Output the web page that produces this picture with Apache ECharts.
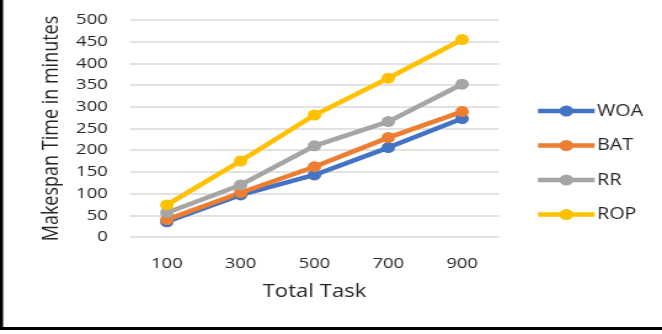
<!DOCTYPE html>
<html>
<head>
<meta charset="utf-8">
<script src="https://cdn.jsdelivr.net/npm/echarts@6/dist/echarts.min.js"></script>
<style>
  html, body { margin: 0; padding: 0; background: #fff; overflow: hidden; }
  /* The figure uses a horizontally widened typeface look: the chart is laid out
     on a 538px-wide canvas and widened to the 662px page. */
  #chart { width: 538px; height: 334px; transform: scaleX(1.2305); transform-origin: 0 0; }
</style>
</head>
<body>
<div id="chart"></div>
<script>
// Makespan time (minutes) per scheduling algorithm vs. total number of tasks
const totalTasks = ['100', '300', '500', '700', '900'];
const woa = [35, 97, 143, 206, 273];
const bat = [40, 102, 162, 229, 289];
const rr  = [56, 120, 210, 266, 352];
const rop = [74, 175, 281, 366, 455];

const seriesNames = ['WOA', 'BAT', 'RR', 'ROP'];
const seriesData = [woa, bat, rr, rop];
const colors = ['#4472C4', '#ED7D31', '#A5A5A5', '#FFC000'];

const font = '"Open Sans", "DejaVu Sans", sans-serif';
const textColor = '#262626';

const chart = echarts.init(document.getElementById('chart'));
chart.setOption({
  animation: false,
  backgroundColor: '#fff',
  grid: { left: 105.6, right: 132.5, top: 20, bottom: 97 },
  legend: {
    orient: 'vertical',
    left: 430,
    top: 98,
    itemGap: 18.5,
    itemWidth: 46,
    itemHeight: 14,
    data: seriesNames,
    lineStyle: { width: 4.5 },
    textStyle: { fontFamily: font, fontSize: 16, color: textColor, padding: [0, 0, 0, -3] }
  },
  xAxis: {
    type: 'category',
    data: totalTasks,
    boundaryGap: true,
    name: 'Total Task',
    nameLocation: 'middle',
    nameGap: 46,
    nameTextStyle: { fontFamily: font, fontSize: 18, color: textColor },
    axisLine: { show: false },
    axisTick: { show: false },
    axisLabel: { fontFamily: font, fontSize: 15, color: textColor, margin: 19 }
  },
  yAxis: {
    type: 'value',
    min: 0,
    max: 500,
    interval: 50,
    name: 'Makespan Time in minutes',
    nameLocation: 'middle',
    nameGap: 55,
    nameTextStyle: { fontFamily: font, fontSize: 18, color: textColor },
    axisLine: { show: false },
    axisTick: { show: false },
    axisLabel: { fontFamily: font, fontSize: 15, color: textColor, margin: 18 },
    splitLine: { lineStyle: { color: '#d9d9d9', width: 1.5 } }
  },
  series: seriesNames.map((name, i) => ({
    name: name,
    type: 'line',
    data: seriesData[i],
    color: colors[i],
    symbol: 'circle',
    symbolSize: 11,
    lineStyle: { width: 4.5, color: colors[i] },
    itemStyle: { color: colors[i] }
  })),
  graphic: [
    { type: 'rect', shape: { x: 0, y: 0, width: 2.5, height: 330 }, style: { fill: '#000' } },
    { type: 'rect', shape: { x: 0, y: 327, width: 538, height: 3 }, style: { fill: '#000' } }
  ]
});
</script>
</body>
</html>
